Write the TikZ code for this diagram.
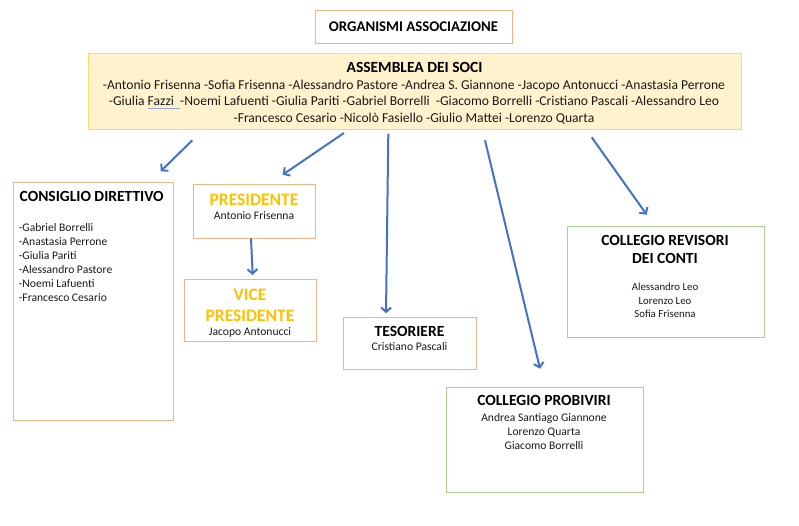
\documentclass[tikz,border=0pt]{standalone}
\usepackage{fontspec}
\setmainfont{Carlito}
\usetikzlibrary{arrows.meta}
\definecolor{boxorange}{HTML}{F4B183}
\definecolor{boxgreen}{HTML}{A9D18E}
\definecolor{assfill}{HTML}{FFF2CC}
\definecolor{assdraw}{HTML}{FFD966}
\definecolor{arrblue}{HTML}{4472C4}
\definecolor{presorange}{HTML}{FFC000}
\definecolor{spell}{HTML}{8FAADC}
\definecolor{nametxt}{HTML}{1A1A1A}
\newsavebox\spellbox
\newcommand\spellmark[1]{\sbox\spellbox{#1}\rlap{\textcolor{spell}{\rule[-2.8pt]{\wd\spellbox}{1.1pt}}}\usebox\spellbox}
\begin{document}
\begin{tikzpicture}[x=1pt,y=-1pt,
  obox/.style={draw=boxorange,line width=1pt,inner sep=0pt},
  gbox/.style={draw=boxgreen,line width=1pt,inner sep=0pt},
  abox/.style={draw=assdraw,fill=assfill,line width=1pt,inner sep=0pt},
  head/.style={inner sep=0pt,anchor=base,font=\fontsize{15.5}{18}\selectfont\bfseries},
  phead/.style={inner sep=0pt,anchor=base,text=presorange,font=\fontsize{17.5}{20}\selectfont\bfseries},
  nm/.style={inner sep=0pt,anchor=base,text=nametxt,font=\fontsize{11.6}{14}\selectfont},
  anm/.style={inner sep=0pt,anchor=base,text=nametxt,font=\fontsize{13.6}{16}\selectfont},
  arr/.style={draw=arrblue,line width=2pt,-{Straight Barb[length=4.5pt,width=10pt,line width=2pt]}}]
\useasboundingbox[fill=white] (0,0) rectangle (799,525);

% boxes
\node[obox,minimum width=197pt,minimum height=33pt] (title) at (413.5,26.5) {};
\node[abox,minimum width=653pt,minimum height=76pt] (ass) at (414.5,91) {};
\node[obox,minimum width=160pt,minimum height=238pt] (cd) at (93,301) {};
\node[obox,minimum width=122pt,minimum height=54pt] (pres) at (254,211) {};
\node[obox,minimum width=132pt,minimum height=62pt] (vice) at (250,310) {};
\node[obox,minimum width=133pt,minimum height=52pt] (tes) at (409.5,343) {};
\node[gbox,minimum width=197pt,minimum height=111pt] (rev) at (665.5,281.5) {};
\node[gbox,minimum width=197pt,minimum height=105pt] (prob) at (544.5,439.5) {};

% title
\node[head,font=\fontsize{14.8}{18}\selectfont\bfseries] (titletxt) at (413.5,31) {ORGANISMI ASSOCIAZIONE};

% assemblea
\node[head] (asshead) at (414.5,72) {ASSEMBLEA DEI SOCI};
\node[anm] (ass1) at (414,89.3) {-Antonio Frisenna -Sofia Frisenna -Alessandro Pastore -Andrea S. Giannone -Jacopo Antonucci -Anastasia Perrone};
\node[anm] (ass2) at (414,105.8) {-Giulia \spellmark{Fazzi\ \ }-Noemi Lafuenti -Giulia Pariti -Gabriel Borrelli\ \ -Giacomo Borrelli -Cristiano Pascali -Alessandro Leo};
\node[anm] (ass3) at (414,122.3) {-Francesco Cesario -Nicolò Fasiello -Giulio Mattei -Lorenzo Quarta};

% consiglio direttivo
\node[head,anchor=base west] (cdhead) at (19.5,201.7) {CONSIGLIO DIRETTIVO};
\foreach \n [count=\i] in {Gabriel Borrelli,Anastasia Perrone,Giulia Pariti,Alessandro Pastore,Noemi Lafuenti,Francesco Cesario}
  \node[nm,anchor=base west] (cd\i) at (18.7,{231+14.1*(\i-1)}) {-\n};

% presidente
\node[phead] (preshead) at (254,205) {PRESIDENTE};
\node[nm] (presname) at (254,219.3) {Antonio Frisenna};

% vice presidente
\node[phead] (vicehead1) at (250,300) {VICE};
\node[phead] (vicehead2) at (250,321) {PRESIDENTE};
\node[nm] (vicename) at (250,335) {Jacopo Antonucci};

% tesoriere
\node[head] (teshead) at (409.5,336) {TESORIERE};
\node[nm] (tesname) at (409.5,350.7) {Cristiano Pascali};

% revisori
\node[head] (revhead1) at (665,245) {COLLEGIO REVISORI};
\node[head] (revhead2) at (665,263.3) {DEI CONTI};
\foreach \n [count=\i] in {Alessandro Leo,Lorenzo Leo,Sofia Frisenna}
  \node[nm,font=\fontsize{10.8}{13}\selectfont] (rev\i) at (665,{290.7+13.3*(\i-1)}) {\n};

% probiviri
\node[head] (probhead) at (544,405.7) {COLLEGIO PROBIVIRI};
\foreach \n [count=\i] in {Andrea Santiago Giannone,Lorenzo Quarta,Giacomo Borrelli}
  \node[nm] (prob\i) at (544,{421+14*(\i-1)}) {\n};

% arrow end points
\coordinate (a1s) at (192.3,140.3); \coordinate (a1e) at (160.7,171.3);
\coordinate (a2s) at (344,133);     \coordinate (a2e) at (282.7,174.7);
\coordinate (a3s) at (388.3,133.7); \coordinate (a3e) at (386,313.3);
\coordinate (a4s) at (485,140.3);   \coordinate (a4e) at (540,368.7);
\coordinate (a5s) at (591.7,137.3); \coordinate (a5e) at (646.7,214.7);
\coordinate (a6e) at (252.7,275);

\draw[arr] (a1s) -- (a1e);
\draw[arr] (a2s) -- (a2e);
\draw[arr] (a3s) -- (a3e);
\draw[arr] (a4s) -- (a4e);
\draw[arr] (a5s) -- (a5e);
\draw[arr] ([xshift=-3pt]pres.south) -- (a6e);
\end{tikzpicture}
\end{document}
